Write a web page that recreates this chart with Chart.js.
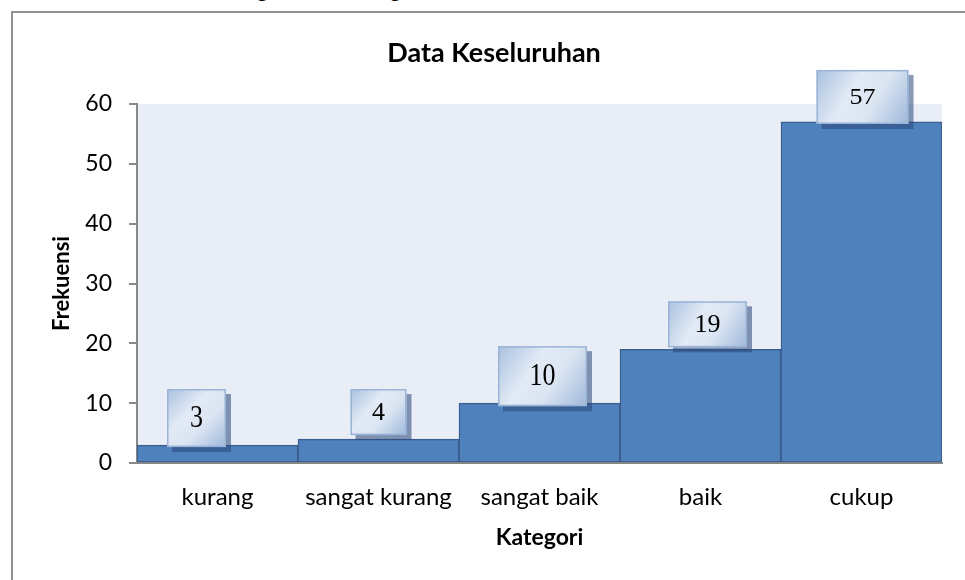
<!DOCTYPE html>
<html>
<head>
<meta charset="utf-8">
<script src="https://cdn.jsdelivr.net/npm/chart.js@4/dist/chart.umd.min.js"></script>
<style>
  html, body { margin: 0; padding: 0; background: #fff; overflow: hidden; }
  #wrap { position: relative; width: 965px; height: 580px; overflow: hidden; }
  #bingkai { position: absolute; left: 11px; top: 11px; width: 1000px; height: 600px;
    border-left: 2px solid #929292; border-top: 2px solid #929292; }
  .potong { position: absolute; top: -27px; font: italic 26px 'Liberation Serif', serif; color: #000; }
  canvas { position: absolute; left: 0; top: 0; }
</style>
</head>
<body>
<div id="wrap">
  <div id="bingkai"></div>
  <span class="potong" style="left:258px">g</span>
  <span class="potong" style="left:391px">g</span>
  <canvas id="grafik" width="965" height="580"></canvas>
</div>
<script>
const kategori = ['kurang', 'sangat kurang', 'sangat baik', 'baik', 'cukup'];
const frekuensi = [3, 4, 10, 19, 57];
const judul = 'Data Keseluruhan';
const judulX = 'Kategori';
const judulY = 'Frekuensi';
const yMin = 0, yMax = 60, yStep = 10;

const fontSans = "Lato, 'Open Sans', sans-serif";

// latar area plot
const latarPlot = {
  id: 'latarPlot',
  beforeDraw(chart) {
    const a = chart.chartArea;
    const ctx = chart.ctx;
    ctx.save();
    ctx.fillStyle = '#e9edf5';
    ctx.fillRect(a.left, a.top, a.right - a.left, a.bottom - a.top);
    ctx.restore();
  }
};

// judul grafik, di tengah bingkai
const judulTengah = {
  id: 'judulTengah',
  afterDraw(chart) {
    const ctx = chart.ctx;
    ctx.save();
    ctx.font = 'bold 27px ' + fontSans;
    ctx.fillStyle = '#000';
    ctx.textAlign = 'center';
    ctx.textBaseline = 'middle';
    ctx.fillText(judul, 494, 53);
    ctx.restore();
  }
};

// kotak label nilai ala Excel
const kotakLabel = {
  id: 'kotakLabel',
  afterDatasetsDraw(chart) {
    const ctx = chart.ctx;
    const meta = chart.getDatasetMeta(0);
    const lebar = [59, 56, 89, 79, 92];
    const tinggi = [58, 46, 60, 46, 54];
    const geserX = [-21, 0, 3, 7, 1];
    const geserY = [2, -4, 3, -2, 2];
    const skalaY = [1.2, 0.97, 1.2, 0.97, 0.86];
    meta.data.forEach((bar, i) => {
      const w = lebar[i], h = tinggi[i];
      const x = bar.x + geserX[i] - w / 2;
      const y = bar.y + geserY[i] - h;
      ctx.save();
      ctx.fillStyle = 'rgba(40, 70, 120, 0.55)';
      ctx.fillRect(x + 5, y + 5, w, h);
      const g = ctx.createLinearGradient(x, y, x + w, y + h);
      g.addColorStop(0, '#a9c1e0');
      g.addColorStop(0.38, '#e2eaf5');
      g.addColorStop(0.62, '#dbe5f2');
      g.addColorStop(1, '#9fb8db');
      ctx.fillStyle = g;
      ctx.fillRect(x, y, w, h);
      ctx.strokeStyle = '#9ab4d8';
      ctx.lineWidth = 1.5;
      ctx.strokeRect(x + 0.75, y + 0.75, w - 1.5, h - 1.5);
      ctx.fillStyle = '#000';
      ctx.font = '26px "Liberation Serif", serif';
      ctx.textAlign = 'center';
      ctx.textBaseline = 'middle';
      ctx.translate(x + w / 2, y + h / 2 + 1);
      ctx.scale(1, skalaY[i]);
      ctx.fillText(String(frekuensi[i]), 0, 0);
      ctx.restore();
    });
  }
};

new Chart(document.getElementById('grafik').getContext('2d'), {
  type: 'bar',
  data: {
    labels: kategori,
    datasets: [{
      label: judulY,
      data: frekuensi,
      backgroundColor: '#4f81bd',
      borderColor: '#3a6091',
      borderWidth: 1.5,
      borderSkipped: false,
      barPercentage: 1,
      categoryPercentage: 1
    }]
  },
  options: {
    responsive: false,
    animation: false,
    layout: { padding: { left: 38, right: 23, top: 104, bottom: 17 } },
    plugins: {
      legend: { display: false },
      title: { display: false },
      tooltip: { enabled: false }
    },
    scales: {
      x: {
        afterFit(s) { s.height = 100; },
        grid: { display: false, drawTicks: false },
        border: { display: true, color: '#888', width: 2 },
        ticks: { color: '#000', padding: 20, font: { family: fontSans, size: 24 } },
        title: { display: true, text: judulX, color: '#000', padding: { top: 0, bottom: 12 },
          font: { family: fontSans, size: 23, weight: 'bold' } }
      },
      y: {
        min: yMin, max: yMax,
        afterFit(s) { s.width = 99; },
        grid: { display: true, drawOnChartArea: false, drawTicks: true, tickLength: 8, color: '#888', lineWidth: 2 },
        border: { display: true, color: '#888', width: 2 },
        ticks: { stepSize: yStep, color: '#000', padding: 17, font: { family: fontSans, size: 23 } },
        title: { display: true, text: judulY, color: '#000', padding: { top: 11, bottom: 0 },
          font: { family: fontSans, size: 22, weight: 'bold' } }
      }
    }
  },
  plugins: [latarPlot, judulTengah, kotakLabel]
});
</script>
</body>
</html>
